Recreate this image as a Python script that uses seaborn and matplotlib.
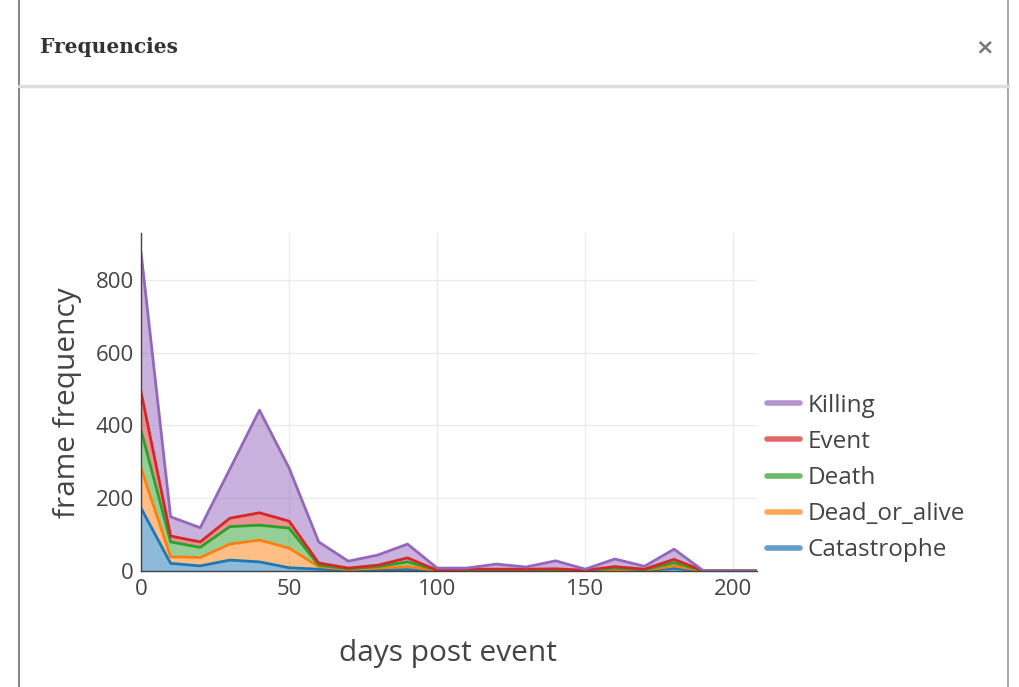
import matplotlib
matplotlib.use('Agg')
import matplotlib.pyplot as plt
from matplotlib.lines import Line2D
import seaborn as sns
import numpy as np
import pandas as pd

# days post event (one point every 10 days)
days = [0, 10, 20, 30, 40, 50, 60, 70, 80, 90, 100, 110, 120, 130, 140, 150,
        160, 170, 180, 190, 200, 210]

# per-series frame counts (not cumulative)
catastrophe = [173, 21, 14, 30, 25, 9, 5, 2, 3, 4, 1, 1, 1, 1, 1, 0,
               2, 1, 7, 0, 0, 0]
dead_or_alive = [110, 18, 23, 44, 60, 54, 7, 2, 5, 8, 1, 1, 1, 1, 1, 1,
                 2, 1, 7, 0, 0, 0]
death = [104, 41, 28, 48, 41, 55, 4, 2, 4, 13, 0, 1, 1, 1, 1, 0,
         4, 1, 9, 0, 0, 0]
event = [106, 16, 15, 23, 34, 19, 6, 2, 4, 11, 0, 2, 2, 2, 3, 1,
         4, 2, 9, 0, 0, 0]
killing = [384, 53, 39, 135, 282, 146, 58, 19, 28, 38, 6, 3, 14, 6, 22, 3,
           21, 8, 28, 0, 0, 0]

series_names = ['Catastrophe', 'Dead_or_alive', 'Death', 'Event', 'Killing']
series_values = [catastrophe, dead_or_alive, death, event, killing]
series_colors = ['#1f77b4', '#ff7f0e', '#2ca02c', '#d62728', '#9467bd']

sns.set_theme(style='white')
plt.rcParams['font.family'] = ['Open Sans', 'DejaVu Sans']

W, H = 1020, 687
fig = plt.figure(figsize=(W / 100, H / 100), dpi=100)

# plot area in pixel coords
x0, x1, y_top, y_bot = 141, 757, 233, 571
ax = fig.add_axes([x0 / W, (H - y_bot) / H, (x1 - x0) / W, (y_bot - y_top) / H])

# build stacked table
base = np.zeros(len(days))
long_rows = []
for name, vals, col in zip(series_names, series_values, series_colors):
    top = base + np.array(vals)
    ax.fill_between(days, base, top, color=col, alpha=0.5, linewidth=0, zorder=2)
    long_rows.append(pd.DataFrame({'days': days, 'cum': top, 'series': name}))
    base = top
long_df = pd.concat(long_rows, ignore_index=True)

sns.lineplot(data=long_df, x='days', y='cum', hue='series',
             palette=dict(zip(series_names, series_colors)),
             linewidth=2, legend=False, ax=ax, zorder=3)

ax.set_xlim(0, 208)
ax.set_ylim(0, 929)
ax.set_xticks([0, 50, 100, 150, 200])
ax.set_yticks([0, 200, 400, 600, 800])
ax.grid(True, color='#ebebeb', linewidth=1)
ax.set_axisbelow(True)
for s in ['top', 'right']:
    ax.spines[s].set_visible(False)
for s in ['left', 'bottom']:
    ax.spines[s].set_color('#444444')
    ax.spines[s].set_linewidth(1)
    ax.spines[s].set_zorder(4)

ax.tick_params(axis='both', length=0, labelsize=16, labelcolor='#444444')
ax.tick_params(axis='y', pad=5)
ax.tick_params(axis='x', pad=6)

ax.set_xlabel('days post event', fontsize=21.5, color='#444444')
ax.set_ylabel('frame frequency', fontsize=21.5, color='#444444')
ax.xaxis.set_label_coords(0.498, -0.2)
ax.yaxis.set_label_coords(-0.096, 0.497)

# legend, top trace first
handles = [Line2D([0], [0], color=c, linewidth=4, alpha=0.7)
           for c in series_colors[::-1]]
leg = fig.legend(handles, series_names[::-1], loc='upper left',
                 bbox_to_anchor=(757 / W, 1 - 384 / H), frameon=False,
                 fontsize=17.5, handlelength=1.35, handletextpad=0.33,
                 labelspacing=0.5, borderaxespad=0)
for t in leg.get_texts():
    t.set_color('#444444')

# modal window decorations
fig.add_artist(Line2D([19 / W, 19 / W], [0, 1], color='#888888', linewidth=1.5))
fig.add_artist(Line2D([1008 / W, 1008 / W], [0, 1], color='#999999', linewidth=1.2))
fig.add_artist(Line2D([19 / W, 1008 / W], [1 - 86 / H, 1 - 86 / H],
                      color='#dcdce3', linewidth=2.5))
fig.text(40 / W, 1 - 47 / H, 'Frequencies', fontsize=14.5, fontweight='bold',
         family='DejaVu Serif', color='#333333', va='center', ha='left')
fig.text(985 / W, 1 - 47 / H, '\u00d7', fontsize=16, fontweight='bold',
         family='DejaVu Sans', color='#777777', va='center', ha='center')

fig.savefig('out.png', dpi=100)
plt.close(fig)
